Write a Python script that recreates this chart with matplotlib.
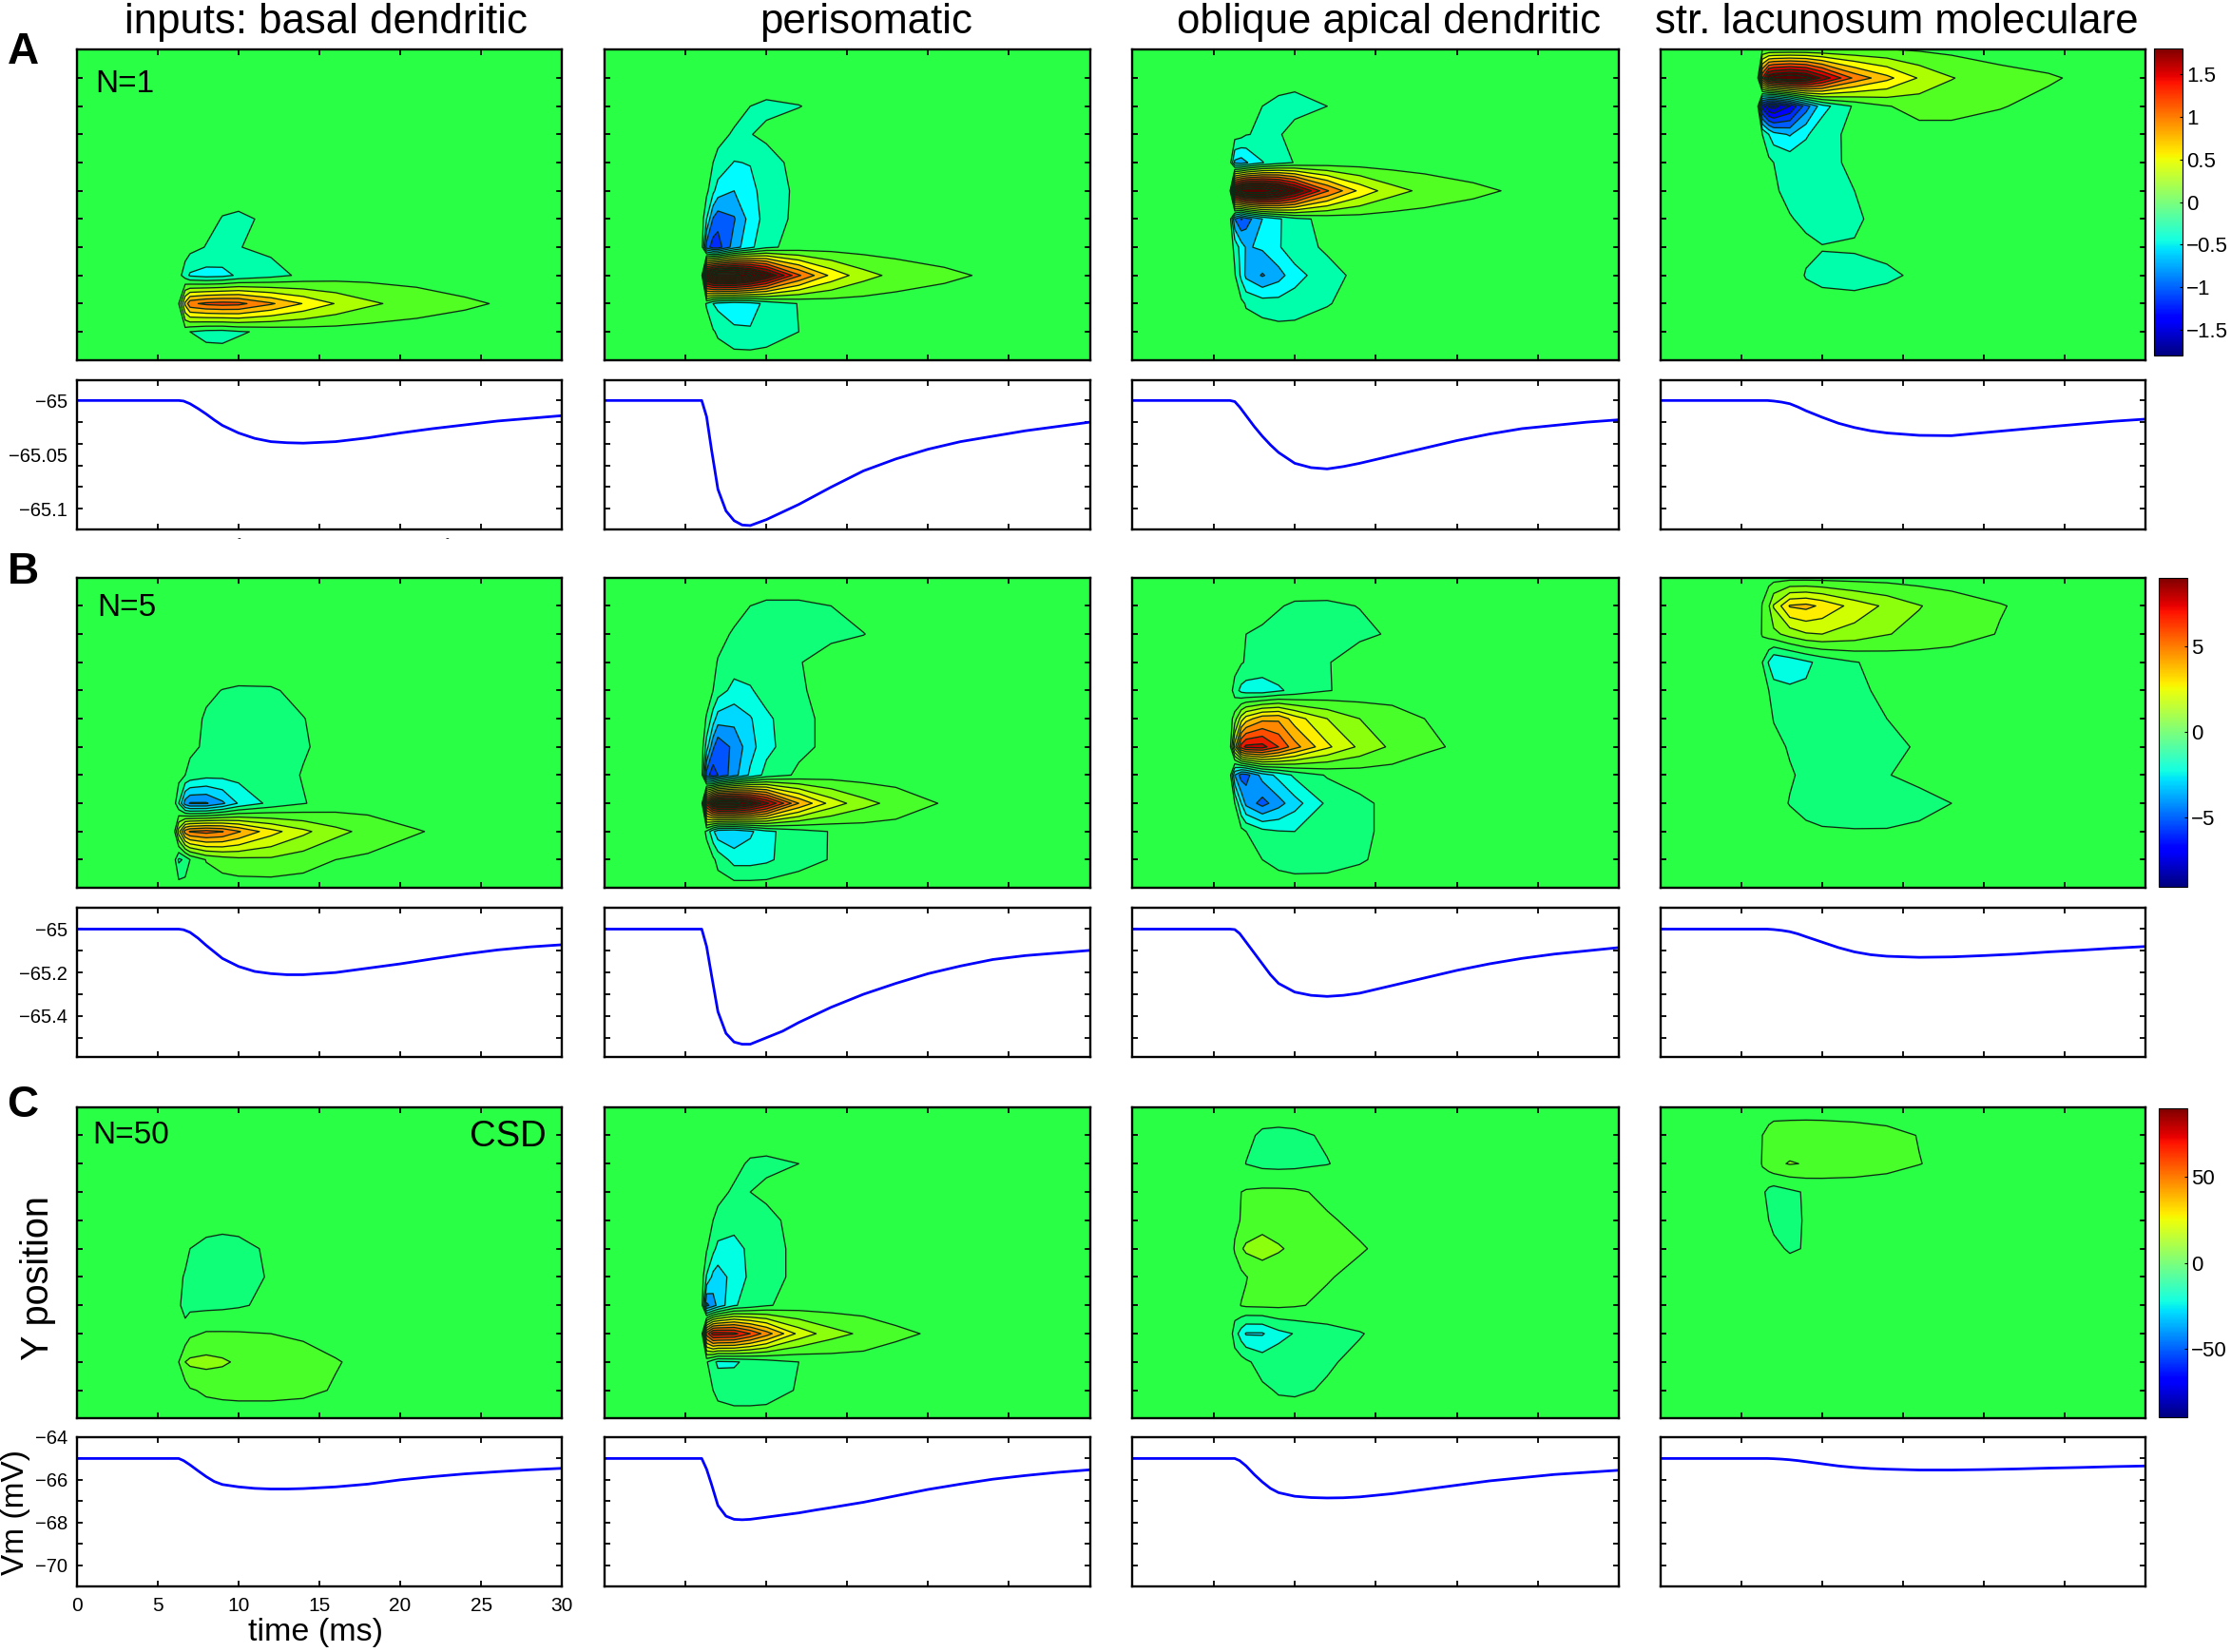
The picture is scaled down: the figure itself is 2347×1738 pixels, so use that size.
import numpy as np
import matplotlib
matplotlib.use('Agg')
import matplotlib.pyplot as plt
from matplotlib.cm import ScalarMappable
from matplotlib.colors import LinearSegmentedColormap, Normalize

plt.rcParams['font.family'] = ['Liberation Sans', 'DejaVu Sans']

# CSD sample times (ms). Rows below list values from 6.3 ms on, the rest is zero
CSD_T = [0, 6.0, 6.3, 6.7, 7, 8, 9, 10, 12, 14, 16, 18, 21, 24, 27, 30]
N_ROWS = 12

A_BASAL = {
    5: [0, 0, 0, 0, -.02, -.02, -.01],
    6: [0, 0, 0, -.03, -.11, -.13, -.07, -.04, -.01],
    7: [0, 0, -.03, -.11, -.15, -.105, -.06, -.03, -.01],
    8: [-.03, -.2, -.33, -.38, -.36, -.27, -.17, -.06, 0, .02, .02],
    9: [.1, .75, 1.05, 1.15, 1.18, 1.16, .93, .69, .49, .34, .21, .13, .07],
    10: [0, -.02, -.1, -.16, -.17, -.12, -.06, -.02],
}
A_PERI = {
    2: [0, 0, 0, -.04, -.1, -.13, -.105, -.05, -.01],
    3: [0, 0, -.05, -.12, -.105, -.07, -.02],
    4: [-.02, -.1, -.15, -.31, -.29, -.16, -.05],
    5: [-.05, -.25, -.4, -.5, -.37, -.2, -.06],
    6: [-.3, -.72, -.82, -.72, -.42, -.22, -.04],
    7: [-.8, -1, -1, -.6, -.35, -.14, -.03],
    8: [2.2, 2.5, 2.6, 2.6, 2.35, 1.95, 1.13, .65, .38, .24, .14, .07, .03],
    9: [-.12, -.3, -.36, -.42, -.38, -.25, -.09, -.02],
    10: [0, -.08, -.13, -.26, -.28, -.22, -.1, -.03],
}
A_OBLIQUE = {
    1: [0, 0, 0, 0, -.05, -.066, -.05, -.02],
    2: [0, 0, -.05, -.1, -.13, -.135, -.1, -.05, -.01],
    3: [0, -.03, -.09, -.13, -.11, -.06, -.02],
    4: [-.55, -.6, -.52, -.31, -.18, -.09, -.02],
    5: [2.1, 2.4, 2.5, 2.5, 2.3, 1.9, 1.12, .65, .38, .25, .14, .07, .03],
    6: [-.7, -.92, -.8, -.5, -.33, -.16, -.04],
    7: [-.15, -.4, -.52, -.47, -.32, -.18, -.07, -.02],
    8: [-.08, -.35, -.55, -.72, -.58, -.38, -.17, -.05, -.01],
    9: [0, -.05, -.12, -.2, -.22, -.2, -.11, -.04],
    10: [0, 0, 0, 0, -.03, -.03, -.02],
}
A_LACUNOSUM = {
    0: [.1, .12, .12, .12, .12, .12, .12, .11, .08, .05, .02],
    1: [1.3, 1.9, 2.0, 2.1, 2.0, 1.65, 1.05, .76, .48, .31, .17, .12, .05],
    2: [-1.2, -1.55, -1.6, -1.3, -.8, -.38, -.07, .09, .16, .16, .11, .05, .02],
    3: [-.1, -.3, -.42, -.52, -.33, -.17, -.05, .02, .04, .04, .02],
    4: [0, -.05, -.1, -.16, -.16, -.13, -.08, -.02],
    5: [0, 0, -.08, -.14, -.15, -.14, -.1, -.04],
    6: [0, 0, 0, -.09, -.13, -.15, -.12, -.05, -.01],
    7: [0, 0, 0, -.02, -.07, -.095, -.09, -.07, -.04],
    8: [0, 0, 0, -.02, -.11, -.13, -.135, -.12, -.08, -.03],
    9: [0, 0, 0, 0, -.03, -.06, -.07, -.05, -.02],
}

B_BASAL = {
    4: [0, 0, 0, -.35, -.52, -.6, -.58, -.3, -.1],
    5: [0, 0, -.2, -.6, -.8, -.85, -.8, -.52, -.2],
    6: [0, 0, -.3, -.65, -.85, -.95, -.85, -.58, -.2, -.05],
    7: [-.1, -.5, -.8, -1.15, -1.2, -1.15, -.9, -.45, -.1],
    8: [-1.5, -4, -4.6, -4.6, -3.7, -2.4, -1.2, -.55, -.1],
    9: [3, 6, 6.6, 6.9, 6.55, 5.6, 3.9, 2.75, 1.8, 1.2, .55, .25, .1],
    10: [-1.7, -1.3, -.5, .55, .95, 1.2, 1.3, .95, .5, .3, .1, .05],
}
B_PERI = {
    1: [0, 0, 0, -.2, -.5, -.63, -.63, -.5, -.2],
    2: [0, 0, -.25, -.6, -.8, -.85, -.8, -.7, -.52, -.15, -.02],
    3: [0, -.3, -.55, -1, -1.05, -.95, -.55, -.1],
    4: [0, -.5, -1, -1.85, -1.6, -1.1, -.6, -.2],
    5: [-.6, -2, -3, -3.2, -2.6, -1.7, -.75, -.25],
    6: [-2, -4.3, -5.3, -4.2, -2.9, -1.8, -.75, -.25],
    7: [-5, -6.2, -5.5, -3.9, -2.3, -1.15, -.3, 0],
    8: [9, 12, 13, 13, 11.8, 9.8, 5.5, 3.1, 1.85, 1.15, .4, .15, .05],
    9: [-.7, -2.3, -3.2, -3.4, -2.7, -1.75, -.9, -.45, -.1],
    10: [0, -.3, -.8, -1.9, -1.9, -1.7, -.85, -.45, -.1],
}
B_OBLIQUE = {
    1: [0, 0, 0, -.2, -.45, -.6, -.62, -.48, -.2],
    2: [0, -.1, -.5, -.65, -.75, -.8, -.75, -.65, -.42, -.1],
    3: [0, -.4, -.6, -.8, -.85, -.8, -.55, -.1],
    4: [-1, -1.8, -2, -2.1, -1.65, -1.2, -.55, -.2],
    5: [1, 3, 4, 5.2, 5.3, 4, 2.5, 1.5, .95, .5, .2],
    6: [4, 8, 8.8, 8.9, 7.5, 5.9, 3.7, 2.3, 1.3, .65, .3, .12],
    7: [-3.5, -5, -4.9, -3.1, -2.2, -1.3, -.4, -.1],
    8: [-.5, -2.5, -3.8, -4.9, -3.9, -2.9, -1.3, -.7, -.25],
    9: [0, -.2, -.5, -1.2, -1.45, -1.5, -1.05, -.7, -.25],
    10: [0, 0, 0, -.5, -.8, -1, -.95, -.6, -.2],
}
B_LACUNOSUM = {
    0: [.05, .1, .1, .1, .1, .1, .1, .1, .05],
    1: [.55, 1.4, 2.6, 4.6, 4.8, 4.3, 3.1, 2.3, 1.55, 1.05, .55, .2, .05],
    2: [.6, .9, 1.2, 1.9, 2.4, 2.5, 2.1, 1.55, 1.2, .9, .45, .15],
    3: [-.5, -1.6, -2.5, -2.2, -1.7, -1.2, -.55, -.2, -.05],
    4: [-.1, -.5, -.85, -1.3, -1.35, -1.1, -.7, -.3, -.05],
    5: [0, -.2, -.55, -.9, -1, -1, -.8, -.5, -.2],
    6: [0, 0, -.2, -.6, -.85, -.95, -.9, -.7, -.42, -.1],
    7: [0, 0, 0, -.4, -.7, -.85, -.8, -.53, -.3, -.1],
    8: [0, 0, -.1, -.55, -.8, -.95, -.95, -.9, -.75, -.5, -.1],
    9: [0, 0, 0, 0, -.3, -.4, -.45, -.45, -.35, -.15],
}

C_BASAL = {
    4: [0, 0, 0, -2, -2.6, -2.6, -1],
    5: [0, -2, -5, -7, -7.5, -6.8, -4, -1],
    6: [-3, -6, -7, -7.5, -7.5, -7, -4.5, -1.5],
    7: [-4, -7.5, -7.5, -7.5, -7, -6, -3, -1],
    8: [-1, -2, 3, 6, 6, 5.8, 5, 3.5, 2, 1],
    9: [5, 15, 17, 18, 16.5, 13.5, 11, 9, 5.5, 3, 1],
    10: [0, 0, 4, 6.5, 7.5, 8, 8, 7, 4.3, 2],
}
C_PERI = {
    1: [0, 0, 0, 0, -1, -1, -1],
    2: [0, 0, 0, -3, -6, -6.5, -5, -2, -.5],
    3: [0, 0, -3, -6, -5, -3.5, -1],
    4: [-1, -5, -7, -9.5, -9, -7, -2.5],
    5: [-4, -12, -18, -20, -12, -8, -3],
    6: [-16, -28, -30, -21, -13, -8, -3],
    7: [-48, -40, -32, -16, -11, -6, -1],
    8: [70, 90, 90, 88, 75, 60, 32, 19, 13, 7, 3, 1],
    9: [-4, -12, -17, -16, -13, -10, -5, -1],
    10: [0, -5, -8, -11, -11, -10, -4, -1],
}
C_OBLIQUE = {
    1: [0, -1, -3, -6.5, -7, -6.5, -4, -1],
    2: [0, -3, -5.2, -7.5, -8, -7.5, -5.3, -2],
    3: [0, 5, 6, 7, 7, 6.5, 3, 1],
    4: [3, 5.5, 7, 12, 10, 8, 6, 3, 1],
    5: [6, 14, 17, 18, 16, 13, 9, 5.8, 2.5, 1],
    6: [0, 2, 4.5, 10.7, 9, 8, 5.7, 2.5, 1],
    7: [1, 5.5, 6.5, 7, 7, 6, 3, 1],
    8: [-10, -20, -26, -26, -18, -14.5, -9, -5.5, -2, -.5],
    9: [0, -1, -3, -9.5, -9.5, -8.5, -6, -3, -1],
    10: [0, 0, 0, -3, -6, -6.5, -4, -1.5],
}
C_LACUNOSUM = {
    0: [0, 0, 1, 1, 1, 1, 1],
    1: [5, 8, 9, 9.5, 9.7, 9.5, 8.5, 7.5, 4.7, 2.5, 1],
    2: [6, 10, 13, 15.6, 14.5, 13, 11, 8, 5.2, 3, 1],
    3: [-3, -8, -10, -7, -4, -2.5, -1.5, -.5],
    4: [0, -5, -7, -6.5, -4.5, -3, -1.5],
    5: [0, 0, -3, -6, -4.5, -3, -1],
}

# Vm traces, drop below the -65 mV rest
VM_T = [0, 6, 6.3, 6.6, 7, 7.5, 8, 8.5, 9, 10, 11, 12, 13, 14, 16, 18, 20, 22, 24, 26, 28, 30]
VM_REST = -65
VM_A_BASAL = [0, 0, 0, .0005, .003, .0075, .0125, .018, .023, .03, .035, .038, .039, .0394, .038, .0345, .03, .026, .0225, .019, .0165, .014]
VM_A_PERI = [0, 0, .015, .045, .082, .102, .111, .115, .1155, .11, .103, .096, .088, .08, .065, .054, .045, .038, .033, .028, .024, .02]
VM_A_OBLIQUE = [0, 0, .001, .006, .014, .024, .033, .041, .048, .058, .062, .0632, .061, .058, .051, .044, .037, .031, .026, .023, .02, .0178]
VM_A_LACUNOSUM = [0, 0, 0, 0, .0005, .0015, .003, .006, .0095, .0155, .021, .025, .028, .03, .0322, .0325, .0297, .027, .0243, .0217, .0192, .0172]
VM_B_BASAL = [0, 0, 0, .003, .015, .042, .075, .105, .135, .172, .195, .205, .21, .21, .2, .18, .16, .137, .115, .096, .082, .072]
VM_B_PERI = [0, 0, .08, .21, .38, .48, .52, .53, .53, .5, .47, .43, .395, .36, .3, .25, .205, .17, .14, .122, .11, .098]
VM_B_OBLIQUE = [0, 0, .002, .02, .06, .11, .16, .21, .25, .29, .305, .31, .305, .295, .26, .225, .19, .16, .135, .115, .1, .085]
VM_B_LACUNOSUM = [0, 0, 0, 0, .002, .006, .012, .022, .035, .06, .085, .105, .118, .125, .13, .128, .122, .115, .105, .097, .088, .08]
VM_C_BASAL = [0, 0, 0, .1, .3, .58, .85, 1.08, 1.22, 1.33, 1.4, 1.43, 1.43, 1.41, 1.33, 1.2, 1.0, .85, .72, .62, .53, .46]
VM_C_PERI = [0, 0, .5, 1.2, 2.2, 2.7, 2.85, 2.87, 2.85, 2.75, 2.65, 2.55, 2.42, 2.3, 2.05, 1.75, 1.45, 1.2, .97, .8, .65, .53]
VM_C_OBLIQUE = [0, 0, 0, .1, .35, .75, 1.1, 1.4, 1.6, 1.77, 1.83, 1.85, 1.84, 1.8, 1.65, 1.45, 1.25, 1.05, .9, .75, .65, .55]
VM_C_LACUNOSUM = [0, 0, 0, 0, .01, .03, .06, .1, .15, .25, .35, .42, .47, .5, .54, .54, .52, .49, .45, .42, .38, .35]

COLUMN_TITLES = ['inputs: basal dendritic', 'perisomatic', 'oblique apical dendritic', 'str. lacunosum moleculare']
ROW_NAMES = ['A', 'B', 'C']
N_LABELS = ['N=1', 'N=5', 'N=50']
CSD_SCALE = [1.8, 9, 90]
BAND_SCALE = [1.8, 11, 110]
CBAR_TICKS = [[-1.5, -1, -.5, 0, .5, 1, 1.5], [-5, 0, 5], [-50, 0, 50]]
CBAR_LABELS = [['−1.5', '−1', '−0.5', '0', '0.5', '1', '1.5'], ['−5', '0', '5'], ['−50', '0', '50']]
VM_YLIM = [(-65.119, -64.981), (-65.59, -64.902), (-71, -64)]
VM_TICKS = [np.arange(-65.1, -64.99, .02), np.arange(-65.5, -64.99, .1), np.arange(-71, -63.9, 1)]
VM_LABELS = [[-65, -65.05, -65.1], [-65, -65.2, -65.4], [-64, -66, -68, -70]]
VM_LABEL_TEXT = [['−65', '−65.05', '−65.1'], ['−65', '−65.2', '−65.4'], ['−64', '−66', '−68', '−70']]

CSD_PANELS = [[A_BASAL, A_PERI, A_OBLIQUE, A_LACUNOSUM],
              [B_BASAL, B_PERI, B_OBLIQUE, B_LACUNOSUM],
              [C_BASAL, C_PERI, C_OBLIQUE, C_LACUNOSUM]]
VM_PANELS = [[VM_A_BASAL, VM_A_PERI, VM_A_OBLIQUE, VM_A_LACUNOSUM],
             [VM_B_BASAL, VM_B_PERI, VM_B_OBLIQUE, VM_B_LACUNOSUM],
             [VM_C_BASAL, VM_C_PERI, VM_C_OBLIQUE, VM_C_LACUNOSUM]]

# layout in pixels of a 1568 wide view of the figure
VIEW_W, VIEW_H = 1568, 1161
COL_X = [(54, 395), (425, 766), (796, 1138), (1167, 1508)]
HEAT_Y = [(35, 253), (406, 624), (778, 997)]
TRACE_Y = [(267, 372), (638, 743), (1010, 1115)]
CBAR_BOX = [(1514, 1534, 34, 250), (1517, 1537, 406, 623), (1517, 1537, 779, 996)]

BAND_COLORS = [(0, (0, 0, 130)), (.167, (0, 0, 255)), (.278, (0, 90, 255)), (.333, (0, 170, 255)),
               (.39, (0, 255, 255)), (.444, (0, 255, 170)), (.4545, (15, 255, 120)), (.5, (40, 255, 70)),
               (.556, (80, 255, 35)), (.611, (170, 255, 0)), (.667, (255, 255, 0)), (.722, (255, 190, 0)),
               (.778, (255, 130, 0)), (.833, (255, 60, 0)), (.889, (225, 0, 0)), (.944, (150, 0, 0)), (1, (90, 0, 0))]
band_cmap = LinearSegmentedColormap.from_list(
    'bands', [(p, tuple(c / 255 for c in rgb)) for p, rgb in BAND_COLORS])


def box(x0, x1, y0, y1):
    return [x0 / VIEW_W, 1 - y1 / VIEW_H, (x1 - x0) / VIEW_W, (y1 - y0) / VIEW_H]


def label(x, y, s, **kw):
    fig.text(x / VIEW_W, 1 - y / VIEW_H, s, ha=kw.pop('ha', 'center'), va=kw.pop('va', 'center'), **kw)


def style_axes(ax):
    for sp in ax.spines.values():
        sp.set_linewidth(1.7)
    ax.set_xlim(0, 30)
    ax.set_xticks([0, 5, 10, 15, 20, 25, 30])
    ax.tick_params(which='both', direction='in', top=True, right=True, length=4.5, width=1.3, labelsize=14)
    ax.set_xticklabels([])


def csd_grid(rows):
    z = np.zeros((N_ROWS, len(CSD_T)))
    for r, vals in rows.items():
        z[r, 2:2 + len(vals)] = vals
    return z


fig = plt.figure(figsize=(23.47, 17.38), dpi=100)

for i in range(3):
    step = CSD_SCALE[i] / 9
    levels = step * (np.arange(-30, 31) + .5)
    mids = step * np.arange(-29, 31)
    band_norm = Normalize(-BAND_SCALE[i], BAND_SCALE[i], clip=True)
    band_colors = [band_cmap(band_norm(m)) for m in mids]

    for j in range(4):
        # CSD panel
        ax = fig.add_axes(box(*COL_X[j], *HEAT_Y[i]))
        z = csd_grid(CSD_PANELS[i][j])
        ax.contourf(CSD_T, np.arange(N_ROWS), z, levels=levels, colors=band_colors, antialiased=True)
        ax.contour(CSD_T, np.arange(N_ROWS), z, levels=levels, colors='#0b2a14', linewidths=.95, linestyles='solid')
        style_axes(ax)
        ax.set_ylim(11, 0)
        ax.set_yticks(range(1, 11))
        ax.set_yticklabels([])

        # Vm panel
        ax = fig.add_axes(box(*COL_X[j], *TRACE_Y[i]))
        ax.plot(VM_T, VM_REST - np.array(VM_PANELS[i][j]), color='#0000ff', lw=2)
        style_axes(ax)
        ax.set_ylim(*VM_YLIM[i])
        ax.set_yticks(VM_TICKS[i])
        ax.set_yticklabels([])
        if j == 0:
            # labelled values do not all sit on a tick mark
            ax.yaxis.remove_overlapping_locs = False
            ax.set_yticks(VM_LABELS[i], minor=True)
            ax.set_yticklabels(VM_LABEL_TEXT[i], minor=True, fontsize=14.5)
            ax.tick_params(which='minor', length=0, pad=7, labelsize=14.5)
            if i == 2:
                ax.set_xticklabels([0, 5, 10, 15, 20, 25, 30], fontsize=15)
                ax.tick_params(axis='x', pad=8)

    # colour bar
    x0, x1, y0, y1 = CBAR_BOX[i]
    cax = fig.add_axes(box(x0, x1, y0, y1))
    sm = ScalarMappable(Normalize(-CSD_SCALE[i], CSD_SCALE[i]), 'jet')
    cb = fig.colorbar(sm, cax=cax)
    cb.set_ticks(CBAR_TICKS[i])
    cb.set_ticklabels(CBAR_LABELS[i])
    cb.ax.tick_params(direction='in', length=2.5, width=.8, labelsize=16, pad=3)
    cb.outline.set_linewidth(.8)

# text
for x, title in zip([229, 609, 976, 1333], COLUMN_TITLES):
    label(x, 16, title, fontsize=31.5)
for y, name in zip([37, 402, 777], ROW_NAMES):
    label(5, y, name, fontsize=33, fontweight='bold', ha='left')
for (x, y), s in zip([(67, 59), (68, 427), (65, 798)], N_LABELS):
    label(x, y, s, fontsize=24, ha='left')
label(384, 799, 'CSD', fontsize=27.5, ha='right')
label(27, 898, 'Y position', fontsize=28.5, rotation=90)
label(11, 1063, 'Vm (mV)', fontsize=24, rotation=90)
label(222, 1147, 'time (ms)', fontsize=24.5)
# two stray dashes under the first trace
for x in [168, 314]:
    label(x, 378, '-', fontsize=8)

fig.savefig('out.png', dpi=100)
